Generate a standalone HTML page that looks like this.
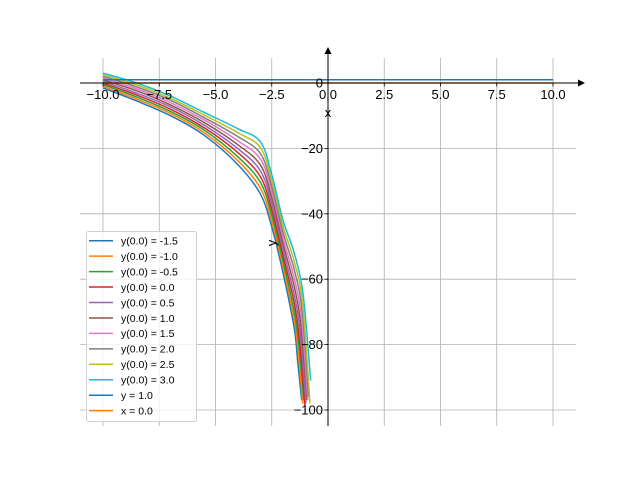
<!DOCTYPE html>
<html><head><meta charset="utf-8"><style>
body{margin:0;background:#fff;}
svg{display:block;font-family:"Liberation Sans","DejaVu Sans",sans-serif;}
</style></head><body>
<svg id="chart" width="640" height="480" viewBox="0 0 640 480" xmlns="http://www.w3.org/2000/svg">
<g id="grid"></g>
<g id="series"></g>
<g id="axes"></g>
<g id="legend"></g>
</svg>
<script>
const xTicks = [-10, -7.5, -5, -2.5, 0, 2.5, 5, 7.5, 10];
const xTickLabels = ["−10.0","−7.5","−5.0","−2.5","0.0","2.5","5.0","7.5","10.0"];
const yTicks = [0, -20, -40, -60, -80, -100];
const yTickLabels = ["0","−20","−40","−60","−80","−100"];
const seriesLabels = ["y(0.0) = -1.5","y(0.0) = -1.0","y(0.0) = -0.5","y(0.0) = 0.0","y(0.0) = 0.5","y(0.0) = 1.0","y(0.0) = 1.5","y(0.0) = 2.0","y(0.0) = 2.5","y(0.0) = 3.0"];
const colors = ["#1f77b4","#ff7f0e","#2ca02c","#d62728","#9467bd","#8c564b","#e377c2","#7f7f7f","#bcbd22","#17becf"];
const sampleX = [-10, -8.5, -7, -5.5, -4, -3, -2.5, -2, -1.5];
const s0 = [-1.5,-5.5,-10,-16,-25,-34,-44,-58,-75];
const s1 = [-1,-4.9,-9.3,-15.2,-23.8,-32.2,-42.2,-56.2,-72.4];
const s2 = [-0.5,-4.3,-8.7,-14.4,-22.6,-30.4,-40.4,-54.4,-69.9];
const s3 = [0,-3.7,-8,-13.7,-21.3,-28.7,-38.7,-52.7,-67.3];
const s4 = [0.5,-3.1,-7.3,-12.9,-20.1,-26.9,-36.9,-50.9,-64.8];
const s5 = [1,-2.4,-6.7,-12.1,-18.9,-25.1,-35.1,-49.1,-62.2];
const s6 = [1.5,-1.8,-6,-11.3,-17.7,-23.3,-33.3,-47.3,-59.7];
const s7 = [2,-1.2,-5.3,-10.6,-16.4,-21.6,-31.6,-45.6,-57.1];
const s8 = [2.5,-0.6,-4.7,-9.8,-15.2,-19.8,-29.8,-43.8,-54.6];
const s9 = [3,0,-4,-9,-14,-18,-28,-42,-52];
const midX = [-1.35,-1.32,-1.29,-1.27,-1.24,-1.21,-1.18,-1.15,-1.13,-1.1];
const midY = [-85,-82.8,-80.6,-78.4,-76.2,-74,-71.8,-69.6,-67.4,-65];
const endX = [-1.17,-1.12,-1.07,-1.02,-0.98,-0.93,-0.9,-0.86,-0.8,-0.77];
const endY = [-97,-98,-97,-99,-98,-97,-97,-96,-98,-91];
const equilibriumY = 1.0;
const lineXRange = [-10, 10];

const NS = "http://www.w3.org/2000/svg";
const X = v => 328 + 22.5 * v;
const Y = v => 83 - 3.27 * v;
function mk(parent, tag, attrs, text){
  const e = document.createElementNS(NS, tag);
  for (const k in attrs) e.setAttribute(k, attrs[k]);
  if (text !== undefined) e.textContent = text;
  parent.appendChild(e); return e;
}
function smoothPath(p){
  let d = 'M'+p[0][0]+','+p[0][1];
  for (let i=0;i<p.length-1;i++){
    const p0=p[Math.max(0,i-1)], p1=p[i], p2=p[i+1], p3=p[Math.min(p.length-1,i+2)];
    const c1=[p1[0]+(p2[0]-p0[0])/6, p1[1]+(p2[1]-p0[1])/6];
    const c2=[p2[0]-(p3[0]-p1[0])/6, p2[1]-(p3[1]-p1[1])/6];
    d += ' C'+c1[0]+','+c1[1]+' '+c2[0]+','+c2[1]+' '+p2[0]+','+p2[1];
  }
  return d;
}
const grid = document.getElementById('grid');
const series = document.getElementById('series');
const axes = document.getElementById('axes');
const legend = document.getElementById('legend');

xTicks.forEach((t,i)=>{
  const l = mk(grid,'line',{x1:X(t),x2:X(t),y1:58,y2:426,stroke:'#b0b0b0','stroke-width':0.8});
  
  
});
yTicks.forEach((t,i)=>{
  const l = mk(grid,'line',{x1:80,x2:576,y1:Y(t),y2:Y(t),stroke:'#b0b0b0','stroke-width':0.8});
  
  
});

const all = [s0,s1,s2,s3,s4,s5,s6,s7,s8,s9];
all.forEach((ys,i)=>{
  let pts = sampleX.map((x,j)=>[X(x),Y(ys[j])]);
  pts.push([X(midX[i]),Y(midY[i])]);
  pts.push([X(endX[i]),Y(endY[i])]);
  const p = mk(series,'path',{d:smoothPath(pts),fill:'none',stroke:colors[i],'stroke-width':1.5});
  
  
});
const eq = mk(series,'line',{x1:X(lineXRange[0]),x2:X(lineXRange[1]),y1:Y(equilibriumY),y2:Y(equilibriumY),stroke:'#1f77b4','stroke-width':1.5});


const xl = mk(series,'line',{x1:X(lineXRange[0]),x2:X(lineXRange[1]),y1:Y(0),y2:Y(0),stroke:'#ff7f0e','stroke-width':1.5});



const xa = mk(axes,'line',{x1:80,x2:580,y1:Y(0),y2:Y(0),stroke:'#000','stroke-width':1});


const xarr = mk(axes,'polygon',{points:'585,'+Y(0)+' 578,'+(Y(0)-3.5)+' 578,'+(Y(0)+3.5),fill:'#000'});


const ya = mk(axes,'line',{x1:328,x2:328,y1:52,y2:426,stroke:'#000','stroke-width':1});


const yarr = mk(axes,'polygon',{points:'328,47 324.5,54 331.5,54',fill:'#000'});



xTicks.forEach((t,i)=>{
  const tk = mk(axes,'line',{x1:X(t),x2:X(t),y1:Y(0),y2:Y(0)+3.5,stroke:'#000','stroke-width':0.8});
  
  
  const tx = mk(axes,'text',{x:X(t),y:99,'text-anchor':'middle','font-size':13},xTickLabels[i]);
  
  
});
yTicks.forEach((t,i)=>{
  const tk = mk(axes,'line',{x1:328-3.5,x2:328,y1:Y(t),y2:Y(t),stroke:'#000','stroke-width':0.8});
  
  
  const tx = mk(axes,'text',{x:323,y:Y(t)+4.5,'text-anchor':'end','font-size':13},yTickLabels[i]);
  
  
});
const xt = mk(axes,'text',{x:328,y:117,'text-anchor':'middle','font-size':13},'x');


const yt = mk(axes,'text',{x:276,y:243,'text-anchor':'middle','font-size':13,transform:'rotate(-90 276 243)'},'y');



const lb = mk(legend,'rect',{x:86.5,y:231.5,width:110,height:190,rx:2,fill:'#fff','fill-opacity':0.8,stroke:'#d0d0d0','stroke-width':1});


const legLabels = seriesLabels.concat(["y = 1.0","x = 0.0"]);
const legColors = colors.concat(["#1f77b4","#ff7f0e"]);
legLabels.forEach((lab,i)=>{
  const y = 240.7 + i*15.45;
  const ln = mk(legend,'line',{x1:89,x2:113,y1:y,y2:y,stroke:legColors[i],'stroke-width':1.5});
  
  
  const tx = mk(legend,'text',{x:121,y:y+3.8,'font-size':10.5},lab);
  
  
});
</script>
</body></html>
